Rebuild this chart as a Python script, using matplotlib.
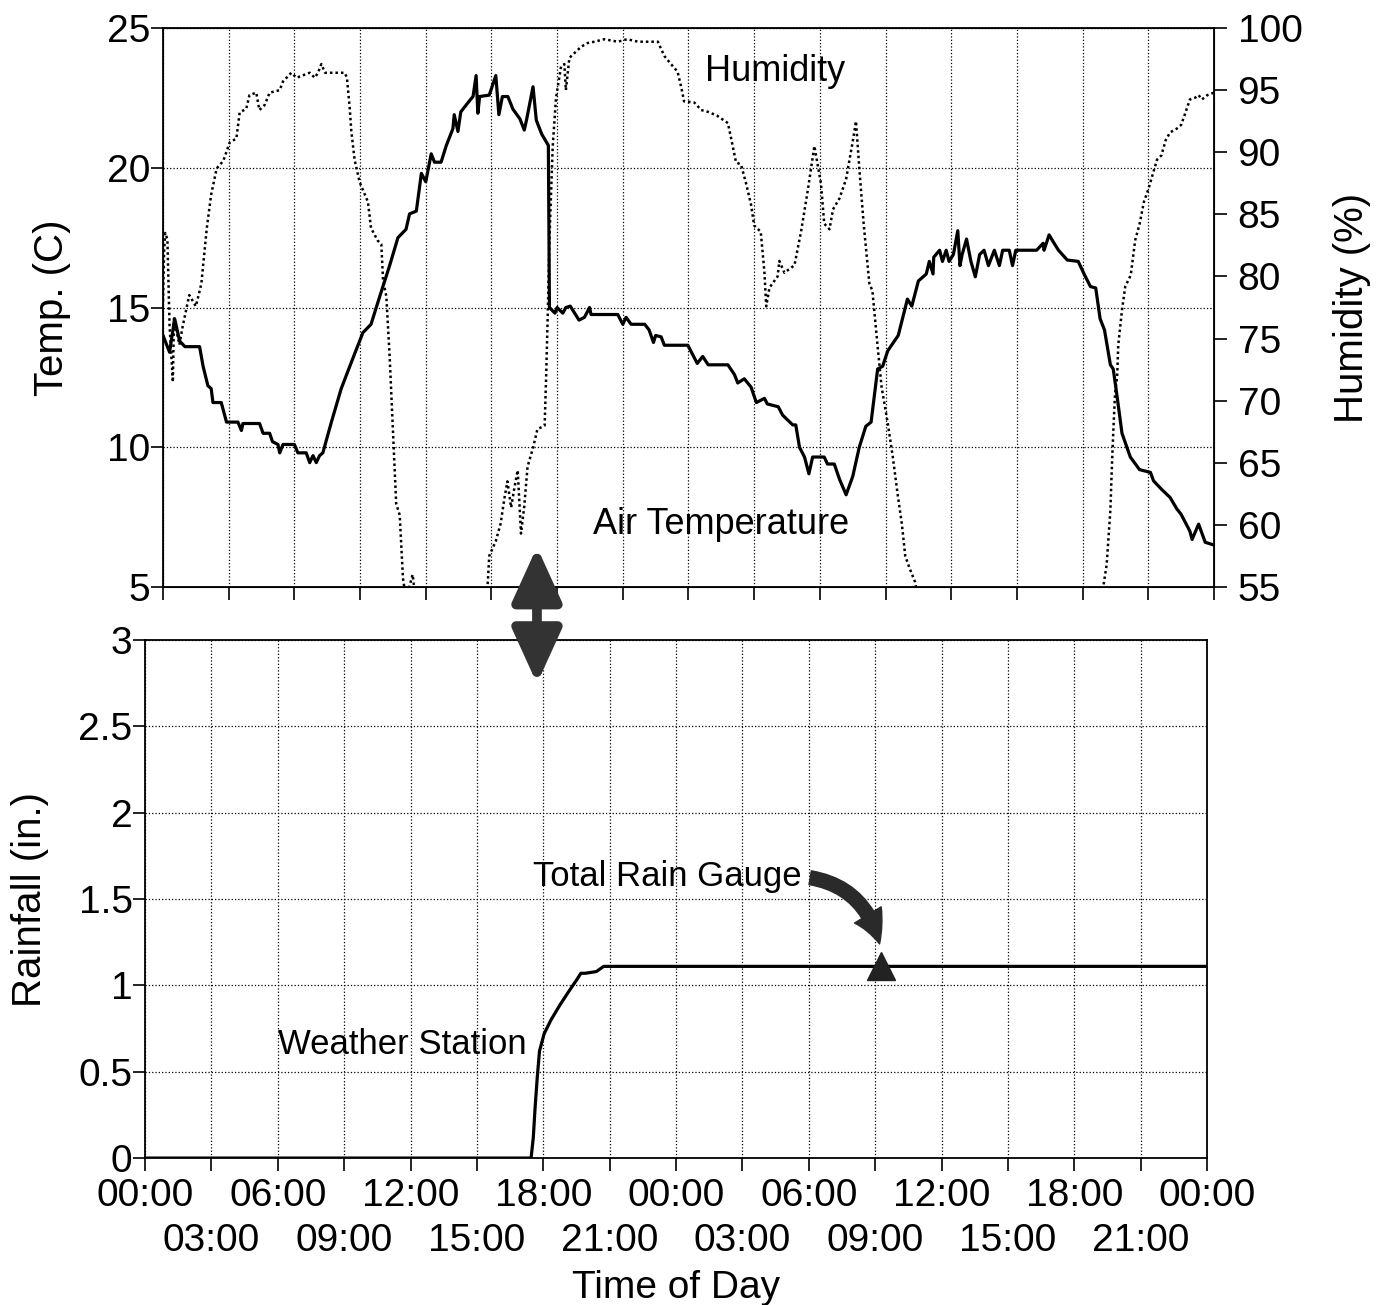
import matplotlib
matplotlib.use('Agg')
import matplotlib.pyplot as plt
from matplotlib.patches import FancyArrowPatch

plt.rcParams['font.family'] = ['Liberation Sans', 'DejaVu Sans']

# air temperature (hours since start, deg C)
temp_hours = [0.0, 0.3, 0.53, 0.76, 1.0, 1.67, 1.83, 2.05, 2.2, 2.28, 2.66, 2.9, 3.42, 3.58, 3.65,
              4.41, 4.57, 4.87, 5.0, 5.25, 5.33, 5.48, 6.0, 6.16, 6.54, 6.7, 6.85, 7.0, 7.15, 7.3,
              7.69, 8.14, 8.68, 9.13, 9.5, 9.9, 10.35, 10.73, 11.1, 11.26, 11.57, 11.8, 12.0, 12.25,
              12.4, 12.7, 12.94, 13.24, 13.3, 13.47, 13.6, 14.0, 14.16, 14.3, 14.38, 14.46, 14.9,
              15.2, 15.34, 15.5, 15.75, 15.98, 16.3, 16.5, 16.6, 16.9, 17.05, 17.3, 17.6, 17.65,
              17.9, 18.0, 18.26, 18.4, 18.6, 19.0, 19.25, 19.48, 19.55, 20.77, 21.0, 21.15, 21.38,
              22.0, 22.2, 22.4, 22.5, 22.75, 22.9, 23.97, 24.27, 24.4, 24.65, 24.9, 25.8, 26.1,
              26.25, 26.55, 26.86, 27.1, 27.47, 27.6, 28.1, 28.3, 28.76, 28.9, 29.07, 29.3, 29.5,
              29.67, 30.2, 30.35, 30.66, 30.9, 31.2, 31.5, 31.8, 32.1, 32.34, 32.64, 32.87, 33.1,
              33.58, 34.0, 34.2, 34.5, 34.86, 35.0, 35.17, 35.2, 35.47, 35.6, 35.77, 35.9, 36.1,
              36.3, 36.4, 36.5, 36.7, 36.9, 37.1, 37.3, 37.5, 37.7, 37.97, 38.2, 38.35, 38.65,
              38.8, 38.95, 39.9, 40.2, 40.24, 40.47, 40.7, 40.9, 41.3, 41.8, 42.1, 42.36, 42.6,
              42.8, 43.0, 43.27, 43.4, 43.57, 43.8, 44.18, 44.6, 45.1, 45.24, 45.6, 46.0, 46.3,
              46.5, 46.9, 47.0, 47.3, 47.6, 48.0]
temp_c = [14.0, 13.4, 14.6, 13.8, 13.6, 13.6, 12.9, 12.2, 12.1, 11.6, 11.6, 10.9, 10.9, 10.6, 10.85,
          10.85, 10.5, 10.5, 10.2, 10.1, 9.8, 10.1, 10.1, 9.8, 9.8, 9.45, 9.7, 9.45, 9.7, 9.8,
          10.9, 12.1, 13.2, 14.1, 14.4, 15.4, 16.5, 17.5, 17.8, 18.35, 18.45, 19.8, 19.5, 20.5,
          20.2, 20.2, 20.8, 21.4, 21.9, 21.3, 22.0, 22.4, 22.55, 23.3, 21.95, 22.55, 22.6,
          23.3, 21.9, 22.55, 22.55, 22.1, 21.75, 21.35, 21.7, 22.9, 21.7, 21.2, 20.8, 15.0,
          14.8, 15.0, 14.8, 15.0, 15.05, 14.55, 14.65, 15.0, 14.75, 14.75, 14.4, 14.65, 14.4,
          14.4, 14.2, 13.75, 14.0, 13.95, 13.65, 13.65, 13.2, 13.0, 13.25, 12.95, 12.95, 12.6,
          12.3, 12.45, 12.15, 11.6, 11.75, 11.55, 11.45, 11.15, 10.8, 10.8, 10.0, 9.65, 9.05,
          9.65, 9.65, 9.4, 9.4, 8.85, 8.3, 8.95, 10.0, 10.75, 10.9, 12.8, 12.9, 13.45,
          14.0, 15.3, 15.05, 15.95, 16.2, 16.65, 16.2, 16.8, 17.05, 16.65, 17.05, 16.65, 16.9,
          17.75, 16.5, 16.9, 17.45, 16.65, 16.1, 16.9, 17.05, 16.5, 17.05, 16.5, 17.05, 17.05,
          16.5, 17.05, 17.05, 17.3, 17.05, 17.6, 17.3, 17.05, 16.7, 16.65, 16.15, 15.75, 15.7,
          14.6, 14.2, 12.95, 12.8, 11.85, 10.5, 9.65, 9.2, 9.1, 8.8, 8.5, 8.2, 7.8,
          7.6, 7.0, 6.7, 7.25, 6.6, 6.5]

# relative humidity (hours, %)
hum_hours = [0.0, 0.05, 0.1, 0.2, 0.3, 0.45, 0.5, 0.75, 0.9, 1.2, 1.5, 1.75, 2.0, 2.2, 2.45, 2.75,
             3.05, 3.35, 3.5, 3.8, 3.95, 4.26, 4.4, 4.64, 4.87, 5.33, 5.48, 5.86, 6.1, 6.4, 6.7,
             6.93, 7.08, 7.23, 7.4, 8.3, 8.4, 8.53, 8.6, 8.75, 8.98, 9.36, 9.5, 9.8, 9.97, 10.05,
             10.2, 10.35, 10.5, 10.65, 10.81, 10.96, 11.1, 11.4, 11.6, 14.76, 14.9, 15.2, 15.42,
             15.58, 15.73, 15.9, 16.05, 16.2, 16.35, 16.5, 16.65, 16.9, 17.1, 17.43, 17.5, 17.58,
             17.65, 17.8, 17.95, 18.18, 18.33, 18.4, 18.56, 18.8, 19.1, 19.4, 19.7, 20.16, 20.77,
             21.2, 21.7, 22.6, 22.9, 23.2, 23.5, 23.66, 23.8, 24.27, 24.58, 24.9, 25.3, 25.8,
             25.95, 26.17, 26.4, 26.63, 26.86, 27.0, 27.3, 27.47, 27.55, 27.7, 28.07, 28.15,
             28.38, 28.84, 29.14, 29.45, 29.75, 29.9, 30.05, 30.2, 30.44, 30.6, 30.9, 31.2, 31.5,
             31.65, 31.8, 32.0, 32.26, 32.4, 32.64, 32.82, 33.1, 33.33, 33.55, 33.75, 33.9, 34.1,
             34.35, 34.5, 42.95, 42.97, 43.1, 43.27, 43.33, 43.4, 43.48, 43.58, 43.63, 43.8,
             43.95, 44.2, 44.4, 44.6, 44.8, 45.0, 45.2, 45.4, 45.6, 45.8, 46.0, 46.3, 46.5, 46.7,
             46.9, 47.15, 47.3, 47.45, 47.7, 47.85, 48.0]
hum_pct = [78.0, 82.0, 83.5, 83.0, 76.0, 71.5, 76.6, 74.5, 76.0, 78.5, 77.6, 79.4, 83.9, 86.6, 88.7, 89.3,
           90.8, 91.1, 93.2, 93.5, 94.6, 94.8, 93.4, 93.8, 94.8, 95.0, 95.7, 96.4, 96.0, 96.2, 96.4,
           96.0, 96.4, 97.1, 96.4, 96.4, 96.0, 93.5, 91.7, 89.4, 87.6, 86.0, 83.9, 82.9, 82.6, 79.7,
           78.4, 73.6, 67.6, 61.7, 60.8, 55.7, 54.0, 56.0, 53.0, 53.0, 57.5, 58.7, 60.1,
           62.0, 63.5, 61.4, 63.0, 64.4, 59.3, 61.5, 64.7, 66.2, 67.7, 68.0, 72.0, 77.5,
           83.0, 90.5, 94.4, 96.9, 97.1, 95.0, 97.6, 98.0, 98.5, 98.8, 98.9, 99.1, 98.9,
           99.1, 98.9, 98.9, 97.75, 97.1, 96.5, 95.3, 94.1, 94.0, 93.4, 93.25, 92.95, 92.35,
           91.1, 89.2, 89.0, 87.5, 85.75, 84.1, 83.6, 80.3, 77.6, 79.1, 80.0, 81.25,
           80.3, 80.9, 83.6, 86.95, 90.5, 89.0, 87.5, 84.25, 83.8, 85.4, 86.3, 87.85, 90.85,
           92.5, 88.75, 84.25, 79.45, 78.85, 74.35, 71.1, 68.2, 65.5, 62.5, 60.0, 57.5, 56.5,
           55.4, 54.0, 54.0, 55.3, 56.8, 61.2, 64.3, 67.4, 70.5, 72.0, 74.5, 77.3,
           79.2, 80.1, 82.9, 84.2, 86.0, 87.0, 88.2, 89.4, 89.75, 91.0, 91.6, 91.9, 92.2, 93.2,
           94.25, 94.4, 94.6, 94.25, 94.6, 94.7, 94.8]

# cumulative rainfall, weather station (hours, in.)
rain_hours = [0.0, 17.45, 17.55, 17.63, 17.73, 17.83, 18.04, 18.35, 18.77, 19.18, 19.5, 19.7, 19.9,
              20.4, 20.73, 48.0]
rain_in = [0.0, 0.0, 0.12, 0.29, 0.47, 0.62, 0.72, 0.8, 0.89, 0.97, 1.03, 1.07, 1.07,
           1.08, 1.11, 1.11]

# total rain gauge reading
gauge_hour = 33.25
gauge_in = 1.11

major_hours = list(range(0, 49, 6))
major_labels = ['00:00', '06:00', '12:00', '18:00', '00:00', '06:00', '12:00', '18:00', '00:00']
minor_hours = list(range(3, 48, 6))
minor_labels = ['03:00', '09:00', '15:00', '21:00', '03:00', '09:00', '15:00', '21:00']

fig = plt.figure(figsize=(13.85, 13.05), dpi=100)

# ---- top panel: temperature + humidity
ax1 = fig.add_axes([0.1177, 0.5502, 0.7588, 0.4283])
ax1.plot(temp_hours, temp_c, color='black', lw=2.3)
ax1.set_xlim(0, 48)
ax1.set_ylim(5, 25)
ax1.set_yticks([5, 10, 15, 20, 25])
ax1.set_xticks(list(range(0, 49, 3)))
ax1.set_xticklabels([])
ax1.grid(True, linestyle=':', color='black', lw=0.9)
ax1.tick_params(axis='both', direction='out', length=9, width=1.2, labelsize=28, pad=0)
ax1.set_ylabel('Temp. (C)', fontsize=29, labelpad=26)
for s in ax1.spines.values():
    s.set_linewidth(1.3)

ax2 = ax1.twinx()
ax2.plot(hum_hours, hum_pct, color='black', lw=1.8, linestyle=(0, (1, 1.2)))
ax2.set_ylim(55, 100)
ax2.set_yticks(range(55, 101, 5))
ax2.tick_params(axis='y', direction='out', length=9, width=1.2, labelsize=28, pad=8)
ax2.set_ylabel('Humidity (%)', fontsize=29, labelpad=22)

ax1.text(24.75, 23.45, 'Humidity', fontsize=26, va='center')
ax1.text(19.65, 7.25, 'Air Temperature', fontsize=26, va='center')

# ---- bottom panel: rainfall
ax3 = fig.add_axes([0.1047, 0.1126, 0.7668, 0.397])
ax3.plot(rain_hours, rain_in, color='black', lw=2.3)
ax3.plot([gauge_hour], [gauge_in], marker='^', color='#222222', markersize=20, clip_on=False)
ax3.set_xlim(0, 48)
ax3.set_ylim(0, 3)
ax3.set_yticks([0, 0.5, 1, 1.5, 2, 2.5, 3])
ax3.set_yticklabels(['0', '0.5', '1', '1.5', '2', '2.5', '3'])
ax3.set_xticks(major_hours)
ax3.set_xticklabels(major_labels)
ax3.set_xticks(minor_hours, minor=True)
ax3.set_xticklabels(minor_labels, minor=True)
ax3.grid(True, which='both', linestyle=':', color='black', lw=0.9)
ax3.tick_params(axis='both', which='both', direction='out', length=9, width=1.2, labelsize=28, pad=0)
ax3.tick_params(axis='x', which='major', pad=5)
ax3.tick_params(axis='x', which='minor', pad=38)
ax3.set_ylabel('Rainfall (in.)', fontsize=29, labelpad=21)
ax3.set_xlabel('Time of Day', fontsize=28, labelpad=8)
for s in ax3.spines.values():
    s.set_linewidth(1.3)

ax3.text(6.0, 0.66, 'Weather Station', fontsize=25, va='center')
ax3.annotate('Total Rain Gauge', xy=(33.2, 1.24), xytext=(17.55, 1.63),
             fontsize=25, va='center', ha='left',
             arrowprops=dict(arrowstyle='simple,head_length=0.9,head_width=0.9,tail_width=0.4',
                             connectionstyle='arc3,rad=-0.35', color='#2a2a2a',
                             shrinkA=4, shrinkB=0, relpos=(1.0, 0.5)))

# double-headed arrow between the panels
arrow = FancyArrowPatch((0.3877, 0.583), (0.3877, 0.474), transform=fig.transFigure,
                        arrowstyle='<|-|>,head_length=1.1,head_width=0.5',
                        mutation_scale=30, lw=7, color='#333333')
fig.patches.append(arrow)

plt.savefig('out.png', dpi=100)
